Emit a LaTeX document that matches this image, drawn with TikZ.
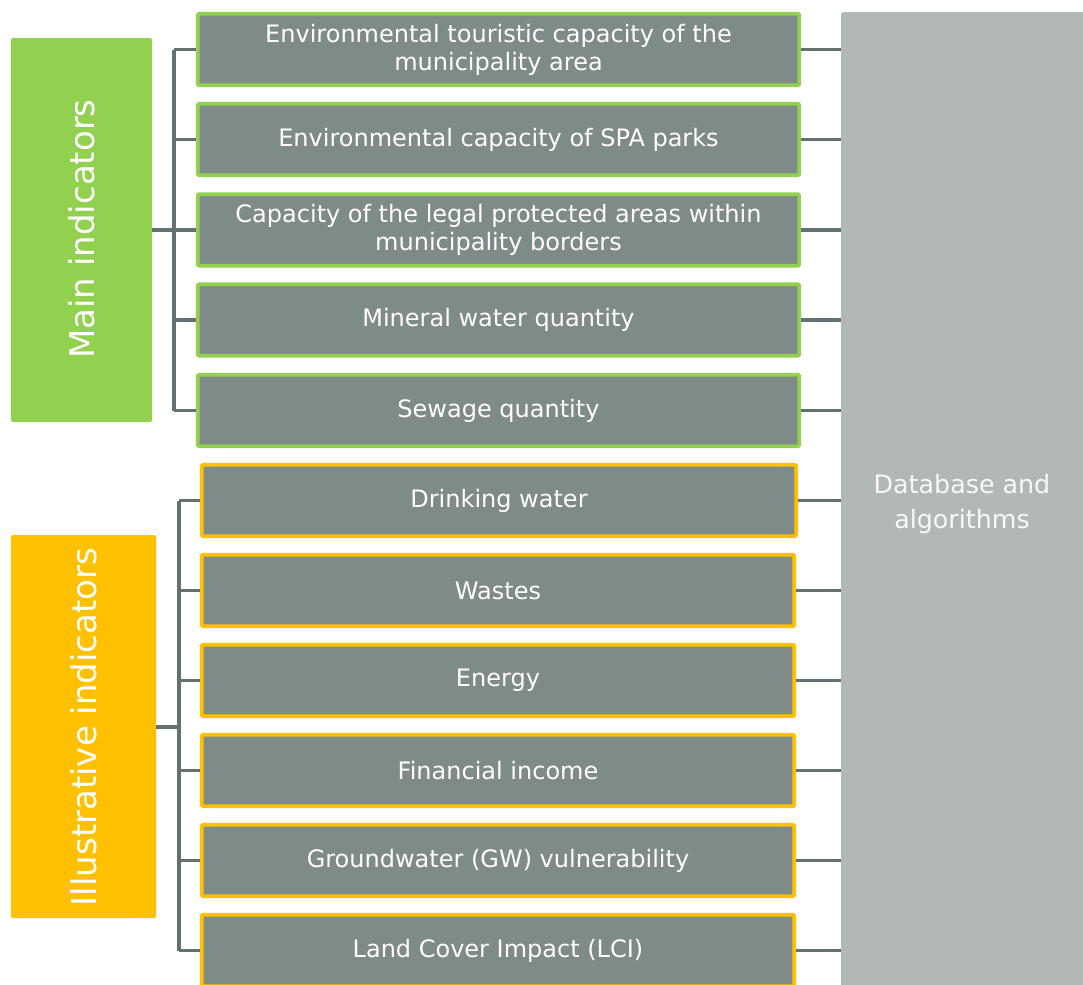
\documentclass[tikz,border=0pt]{standalone}
\usepackage{fontspec}
\setmainfont{DejaVu Sans}
\begin{document}
\begin{tikzpicture}[x=0.75pt,y=-0.75pt,
  box/.style={draw=#1, line width=2.7pt, fill=boxgray, text=white, align=center,
    font=\fontsize{18}{21}\selectfont, minimum height={71.5*0.75pt}, inner sep=0pt, rounded corners=0.8pt},
  bar/.style={fill=#1, draw=none, rounded corners=1.5pt},
  conn/.style={draw=conngray, line width=2.4pt},
  vlabel/.style={text=white, rotate=90, font=\fontsize{25.5}{30}\selectfont}]
\definecolor{boxgray}{HTML}{7F8B89}
\definecolor{conngray}{HTML}{627070}
\definecolor{greenc}{HTML}{92D050}
\definecolor{orangec}{HTML}{FFC000}
\definecolor{dbgray}{HTML}{B1B8B7}
\useasboundingbox (0,0) rectangle (1083,985);
% database
\path[fill=dbgray, rounded corners=2pt] (841,12) rectangle (1090,995);
\node[text=white!95!gray, align=center, font=\fontsize{19}{26}\selectfont] (db) at (962,504) {Database and\\algorithms};
\coordinate (dbL) at (841,500);
% side bars
\path[bar=greenc] (11,38) rectangle (152,422);
\node[vlabel] (main) at (81.5,229) {Main indicators};
\path[bar=orangec] (11,535) rectangle (156,918);
\node[vlabel] (ill) at (83.5,727) {Illustrative indicators};
% main boxes
\foreach \n/\y/\t in {m1/49.5/{Environmental touristic capacity of the\\municipality area},
  m2/139.5/{Environmental capacity of SPA parks},
  m3/230/{Capacity of the legal protected areas within\\municipality borders},
  m4/320/{Mineral water quantity},
  m5/410.5/{Sewage quantity}}{
  \node[box=greenc, minimum width={601.5*0.75pt}] (\n) at (498.5,\y) {\t};
}
% illustrative boxes
\node[box=orangec, minimum width={594.5*0.75pt}] (i1) at (499,500.5) {Drinking water};
\foreach \n/\y/\t in {i2/590.5/{Wastes}, i3/680.5/{Energy}, i4/770.5/{Financial income},
  i5/860.5/{Groundwater (GW) vulnerability}, i6/950.5/{Land Cover Impact (LCI)}}{
  \node[box=orangec, minimum width={592.5*0.75pt}] (\n) at (498,\y) {\t};
}
% main connectors
\coordinate (mt) at (174,49.5);
\coordinate (mb) at (174,410.5);
\draw[conn] (mt) -- (mb);
\foreach \n in {m1,m2,m3,m4,m5}{
  \draw[conn] (\n.west) -- (\n.west -| mt);
  \draw[conn] (\n.east) -- (\n.east -| dbL);
}
\draw[conn] (152,230) -- (m3.west -| mt);
% illustrative connectors
\coordinate (it) at (179,500.5);
\coordinate (ib) at (179,950.5);
\draw[conn] (it) -- (ib);
\foreach \n in {i1,i2,i3,i4,i5,i6}{
  \draw[conn] (\n.west) -- (\n.west -| it);
  \draw[conn] (\n.east) -- (\n.east -| dbL);
}
\draw[conn] (156,727) -- (179,727);
\end{tikzpicture}
\end{document}
